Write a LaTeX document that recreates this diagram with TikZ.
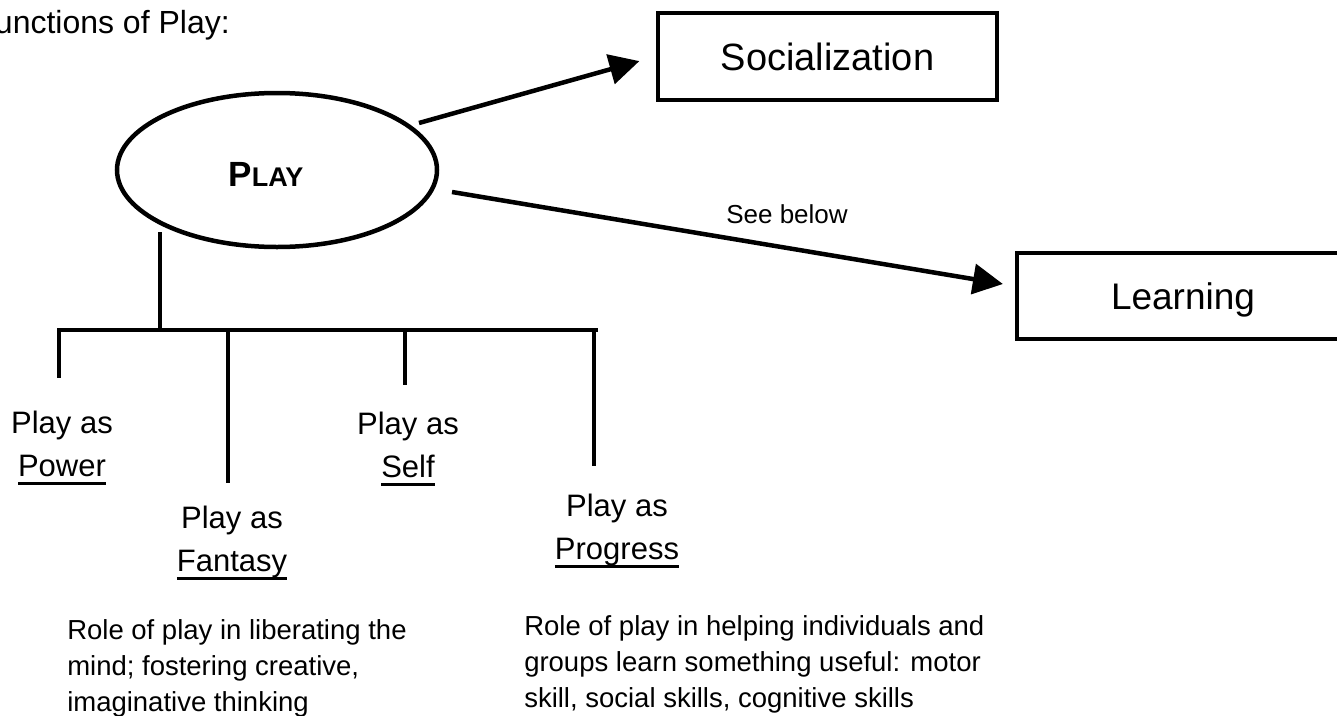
\documentclass[tikz,border=0pt]{standalone}
\usepackage{fontspec}
\setmainfont{Liberation Sans}
\usetikzlibrary{arrows.meta, shapes.geometric}

\newcommand{\ulword}[1]{\leavevmode\sbox0{#1}\rlap{\rule[-8pt]{\wd0}{2.5pt}}\usebox0}

\begin{document}
\begin{tikzpicture}[
		x=1pt, y=-1pt,
		line width=4.5pt,
		every node/.style={inner sep=0pt},
		title text/.style={anchor=base east, font=\fontsize{32}{38}\selectfont},
		hub/.style={ellipse, draw, minimum width=320pt, minimum height=154pt},
		hub text/.style={text depth=0pt, font=\fontsize{35}{40}\selectfont\bfseries},
		goal/.style={draw, rectangle, text depth=0pt},
		arrow/.style={-{Triangle[length=30pt, width=30pt]}},
		kind/.style={anchor=north, align=center, font=\fontsize{31}{43}\selectfont},
		desc/.style={anchor=north west, align=left, font=\fontsize{27.5}{36}\selectfont},
		note/.style={font=\fontsize{26}{30}\selectfont}
		]

	\useasboundingbox (0,0) rectangle (1337,715);

	% Title
	\node[title text] (title) at (232,33) {Functions of Play:};

	% Centre
	\node[hub] (play) at (277,170) {};
	\node[hub text] (play text) at (266,174) {P{\fontsize{27}{30}\selectfont LAY}};

	% Functions
	\node[goal, minimum width=339pt, minimum height=87pt, font=\fontsize{38}{44}\selectfont] (soc) at (827.5,56.5) {Socialization};
	\node[goal, minimum width=332pt, minimum height=86pt, font=\fontsize{37}{44}\selectfont] (learn) at (1183,296) {Learning};

	\coordinate (soc tail) at (419,123);
	\coordinate (learn tail) at (452,192);
	\draw[arrow, shorten >=17pt] (soc tail) -- (soc.west);
	\draw[arrow, shorten >=12pt] (learn tail) -- ([yshift=10pt]learn.west);
	\node[note] (below) at (787,214) {See below};

	% Tree
	\coordinate (stem) at (160,232);
	\coordinate (joint) at (160,330);
	\coordinate (bar west) at (57,330);
	\coordinate (bar east) at (598,330);
	\draw (stem) -- (joint);
	\draw (bar west) -- (bar east);

	% Drops
	\foreach \name/\x/\y in {power/59/378, fantasy/228/483, self/405/385, progress/594/466}{
		\coordinate (\name top) at (\x,330);
		\coordinate (\name end) at (\x,\y);
		\draw (\name top) -- (\name end);
	}

	% Kinds of play
	\node[kind] (power) at (62,409) {Play as\\\ulword{Power}};
	\node[kind] (fantasy) at (232,504) {Play as\\\ulword{Fantasy}};
	\node[kind] (self) at (408,410) {Play as\\\ulword{Self}};
	\node[kind] (progress) at (617,492) {Play as\\\ulword{Progress}};

	% Notes
	\node[desc] (fantasy note) at (65,617) {Role of play in liberating the\\mind; fostering creative,\\imaginative thinking};
	\node[desc] (progress note) at (522,613) {Role of play in helping individuals and\\groups learn something useful: motor\\skill, social skills, cognitive skills};

\end{tikzpicture}
\end{document}
